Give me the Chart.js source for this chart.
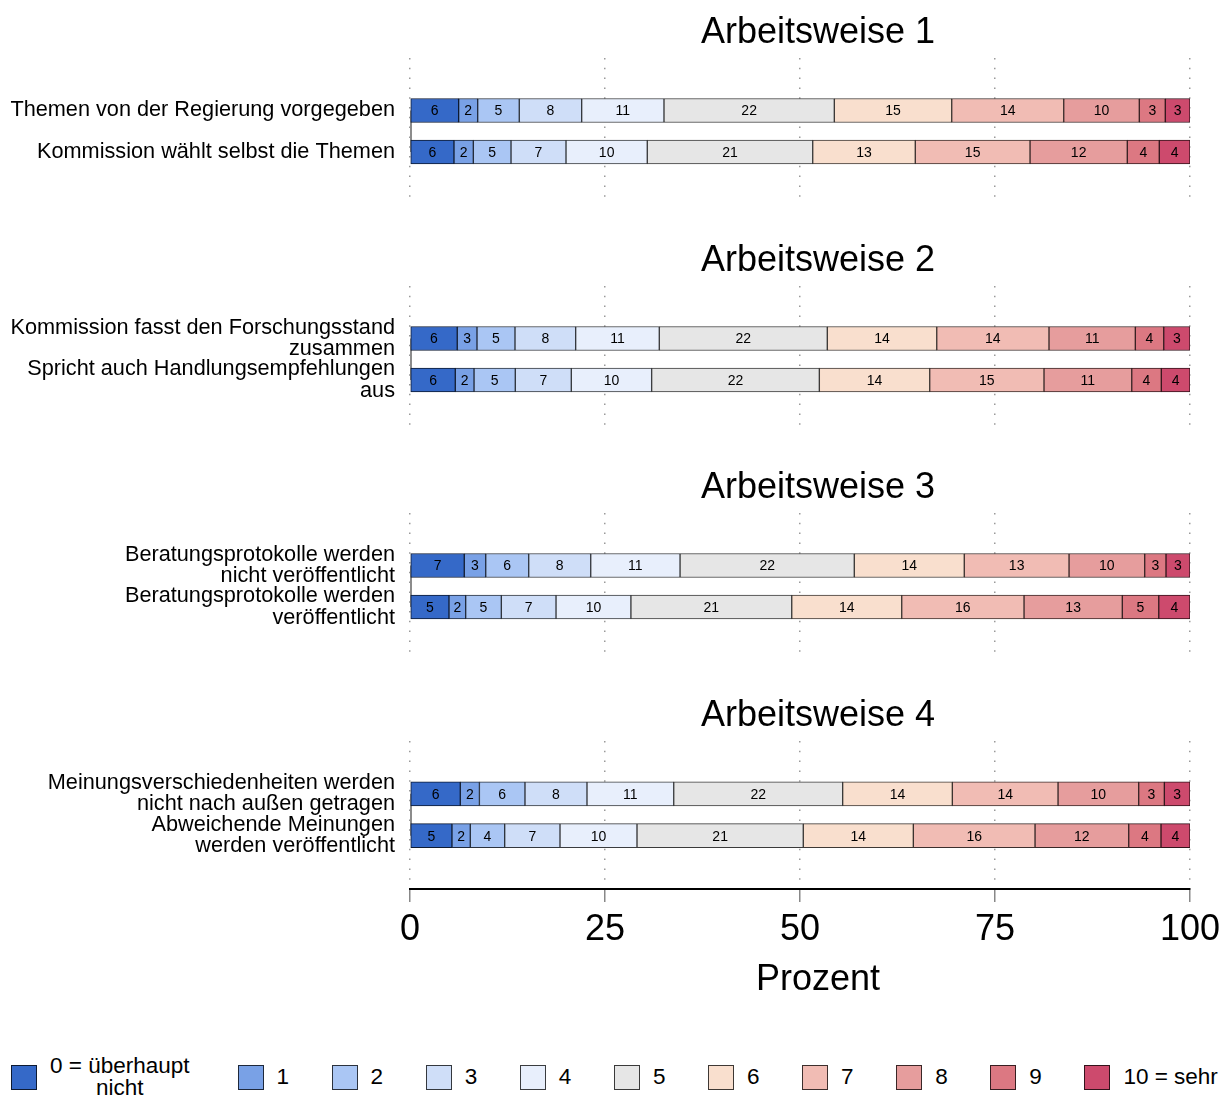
<!DOCTYPE html>
<html lang="de">
<head>
<meta charset="utf-8">
<title>Arbeitsweise</title>
<script src="https://cdn.jsdelivr.net/npm/chart.js@4.4.1/dist/chart.umd.min.js"></script>
<style>
    html, body { margin: 0; padding: 0; background: #fff; }
    body { width: 1223px; height: 1097px; position: relative; overflow: hidden;
           font-family: "Liberation Sans", Arial, Helvetica, sans-serif; }
    canvas { position: absolute; left: 0; }
    .itemLeyenda { position: absolute; top: 1064px; height: 26px; display: flex; align-items: center; }
    .caja { width: 26px; height: 25px; box-sizing: border-box; border: 1px solid #000; }
    .texto { margin-left: 13px; font-size: 22.5px; line-height: 22px; color: #000; white-space: pre-line; text-align: center; }
</style>
</head>
<body>
<canvas id="panel1" width="1223" height="227" style="top:0px"></canvas>
<canvas id="panel2" width="1223" height="227" style="top:228px"></canvas>
<canvas id="panel3" width="1223" height="227" style="top:455px"></canvas>
<canvas id="panel4" width="1223" height="326" style="top:683px"></canvas>
<div id="leyenda"></div>

<script>
// Categorías de la escala (0 a 10)
const categorias = ['0 = überhaupt\nnicht', '1', '2', '3', '4', '5', '6', '7', '8', '9', '10 = sehr'];
const colores = ['#3569c8', '#79a1e6', '#aac6f4', '#cfdef8', '#e8effc', '#e6e6e6',
                 '#f9dfce', '#f1bcb4', '#e69d9d', '#dc7882', '#cd4a6d'];

const titulos = ['Arbeitsweise 1', 'Arbeitsweise 2', 'Arbeitsweise 3', 'Arbeitsweise 4'];

// Etiquetas de las filas de cada panel
const etiquetasPanel1 = ['Themen von der Regierung vorgegeben', 'Kommission wählt selbst die Themen'];
const etiquetasPanel2 = [['Kommission fasst den Forschungsstand', 'zusammen'], ['Spricht auch Handlungsempfehlungen', 'aus']];
const etiquetasPanel3 = [['Beratungsprotokolle werden', 'nicht veröffentlicht'], ['Beratungsprotokolle werden', 'veröffentlicht']];
const etiquetasPanel4 = [['Meinungsverschiedenheiten werden', 'nicht nach außen getragen'], ['Abweichende Meinungen', 'werden veröffentlicht']];

// Porcentajes por categoría (0..10) para cada fila
const valoresPanel1a = [6.24, 2.44, 5.33, 8.00, 10.55, 21.84, 15.05, 14.36, 9.69, 3.33, 3.17];
const valoresPanel1b = [5.64, 2.48, 4.83, 7.05, 10.42, 21.21, 13.15, 14.71, 12.47, 4.10, 3.94];
const valoresPanel2a = [6.06, 2.53, 4.87, 7.78, 10.72, 21.54, 14.03, 14.39, 11.07, 3.64, 3.37];
const valoresPanel2b = [5.81, 2.40, 5.29, 7.18, 10.30, 21.50, 14.15, 14.65, 11.25, 3.79, 3.68];
const valoresPanel3a = [6.96, 2.75, 5.51, 7.95, 11.45, 22.34, 14.10, 13.43, 9.70, 2.73, 3.08];
const valoresPanel3b = [5.00, 2.14, 4.57, 7.01, 9.60, 20.62, 14.10, 15.68, 12.60, 4.67, 4.01];
const valoresPanel4a = [6.45, 2.45, 5.84, 7.95, 11.12, 21.66, 14.06, 13.55, 10.34, 3.29, 3.29];
const valoresPanel4b = [5.38, 2.35, 4.41, 7.09, 9.87, 21.32, 14.11, 15.60, 12.01, 4.14, 3.72];

const ticksX = [0, 25, 50, 75, 100];
const tituloEjeX = 'Prozent';

const fuente = '"Liberation Sans", Arial, Helvetica, sans-serif';
Chart.defaults.font.family = fuente;

// Oscurece un color hex para el borde de los segmentos
function oscurecer(hex) {
    const n = parseInt(hex.slice(1), 16);
    const r = Math.round(((n >> 16) & 255) * 0.25);
    const g = Math.round(((n >> 8) & 255) * 0.25);
    const b = Math.round((n & 255) * 0.25);
    return `rgb(${r}, ${g}, ${b})`;
}

// Título de cada panel y título del eje X (centrados un poco a la derecha, como el original)
const pluginTitulo = {
    id: 'tituloPanel',
    afterDraw(chart, args, opts) {
        const ctx = chart.ctx;
        const centro = (chart.chartArea.left + chart.chartArea.right) / 2 + 18;
        ctx.save();
        ctx.font = '36px ' + fuente;
        ctx.fillStyle = '#000';
        ctx.textAlign = 'center';
        ctx.textBaseline = 'alphabetic';
        ctx.fillText(opts.text, centro, 43);
        if (opts.ejeX) {
            ctx.fillText(opts.ejeX, centro, chart.chartArea.bottom + 101);
        }
        ctx.restore();
    }
};

// Línea gris del eje entre las dos barras
const pluginLineaEje = {
    id: 'lineaEje',
    beforeDatasetsDraw(chart) {
        const ctx = chart.ctx;
        const escalaY = chart.scales.y;
        const x = chart.chartArea.left + 1;
        ctx.save();
        ctx.strokeStyle = '#8c8c8c';
        ctx.lineWidth = 2;
        ctx.beginPath();
        ctx.moveTo(x, escalaY.getPixelForValue(0));
        ctx.lineTo(x, escalaY.getPixelForValue(1));
        ctx.stroke();
        ctx.restore();
    }
};

// Números redondeados dentro de cada segmento
const pluginEtiquetas = {
    id: 'etiquetasSegmentos',
    afterDatasetsDraw(chart) {
        const ctx = chart.ctx;
        ctx.save();
        ctx.font = '14px ' + fuente;
        ctx.fillStyle = '#000';
        ctx.textAlign = 'center';
        ctx.textBaseline = 'middle';
        chart.data.datasets.forEach((ds, i) => {
            chart.getDatasetMeta(i).data.forEach((barra, j) => {
                const valor = ds.data[j].x;
                ctx.fillText(String(Math.round(valor)), (barra.x + barra.base) / 2, barra.y + 1);
            });
        });
        ctx.restore();
    }
};

function crearPanel(idCanvas, titulo, etiquetas, valoresA, valoresB, conEje) {
    const datasets = categorias.map((cat, k) => ({
        label: cat,
        data: [{ x: valoresA[k], y: 0 }, { x: valoresB[k], y: 1 }],
        backgroundColor: colores[k],
        borderColor: oscurecer(colores[k]),
        borderWidth: 1,
        borderSkipped: false,
        barThickness: 24
    }));

    new Chart(document.getElementById(idCanvas), {
        type: 'bar',
        data: { datasets: datasets },
        options: {
            indexAxis: 'y',
            responsive: false,
            animation: false,
            layout: { padding: { top: 58, right: 33, left: 0, bottom: 0 } },
            plugins: {
                legend: { display: false },
                tooltip: { enabled: false },
                tituloPanel: { text: titulo, ejeX: conEje ? tituloEjeX : null }
            },
            scales: {
                x: {
                    type: 'linear',
                    stacked: true,
                    min: 0,
                    max: 100,
                    afterBuildTicks: (escala) => { escala.ticks = ticksX.map(v => ({ value: v })); },
                    ticks: { display: conEje, font: { size: 36 }, color: '#000', padding: 6, maxRotation: 0 },
                    grid: {
                        color: '#9a9a9a',
                        lineWidth: 1.5,
                        drawTicks: conEje,
                        tickLength: 13,
                        tickColor: '#888',
                        tickWidth: 1.5
                    },
                    border: { display: conEje, color: '#000', width: 2, dash: [1.5, 8.3] },
                    afterFit: (escala) => {
                        escala.height = conEje ? 120 : 22;
                        escala.paddingLeft = 0;
                        escala.paddingRight = 0;
                    }
                },
                y: {
                    type: 'linear',
                    stacked: true,
                    reverse: true,
                    offset: false,
                    min: -1.265,
                    max: 2.277,
                    afterBuildTicks: (escala) => { escala.ticks = [{ value: 0 }, { value: 1 }]; },
                    ticks: {
                        callback: (valor) => etiquetas[valor],
                        font: { size: 21.7, lineHeight: 0.97 },
                        color: '#000',
                        padding: 15
                    },
                    grid: { display: false, drawTicks: false, offset: false },
                    border: { display: false },
                    afterFit: (escala) => {
                        escala.width = 410;
                        escala.paddingTop = 0;
                        escala.paddingBottom = 0;
                    }
                }
            }
        },
        plugins: [pluginTitulo, pluginLineaEje, pluginEtiquetas]
    });
}

// Leyenda en HTML debajo del gráfico
function crearLeyenda() {
    const contenedor = document.getElementById('leyenda');
    categorias.forEach((cat, k) => {
        const item = document.createElement('div');
        item.className = 'itemLeyenda';
        item.style.left = (k === 0 ? 11 : 237.5 + (k - 1) * 94.1) + 'px';
        const caja = document.createElement('div');
        caja.className = 'caja';
        caja.style.background = colores[k];
        caja.style.borderColor = oscurecer(colores[k]);
        const texto = document.createElement('div');
        texto.className = 'texto';
        texto.textContent = cat;
        item.appendChild(caja);
        item.appendChild(texto);
        contenedor.appendChild(item);
    });
}

crearPanel('panel1', titulos[0], etiquetasPanel1, valoresPanel1a, valoresPanel1b, false);
crearPanel('panel2', titulos[1], etiquetasPanel2, valoresPanel2a, valoresPanel2b, false);
crearPanel('panel3', titulos[2], etiquetasPanel3, valoresPanel3a, valoresPanel3b, false);
crearPanel('panel4', titulos[3], etiquetasPanel4, valoresPanel4a, valoresPanel4b, true);
crearLeyenda();
</script>
</body>
</html>
